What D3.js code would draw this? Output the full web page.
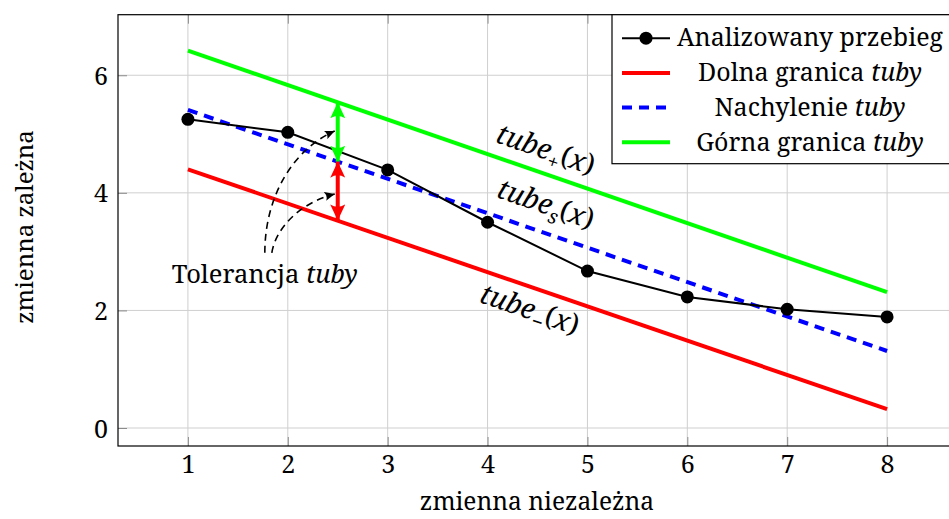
<!DOCTYPE html>
<html>
<head>
  <meta charset="UTF-8">
  <style>
    body { margin: 0; background: #ffffff; overflow: hidden; }
    svg { display: block; }
  </style>
</head>
<body>
<svg></svg>
<script src="https://d3js.org/d3.v7.min.js"></script>
<script>
let width = 949, height = 519;
const FONT = '"Noto Serif", "Liberation Serif", serif';

// measured series
const xValues = [1, 2, 3, 4, 5, 6, 7, 8];
const measured = [5.25, 5.03, 4.39, 3.50, 2.67, 2.23, 2.02, 1.89];

// tube lines (start / end)
const tubeX = [1, 8];
const lowerY = [4.40, 0.32];
const slopeY = [5.41, 1.31];
const upperY = [6.42, 2.31];

// tolerance arrows at x = 2.5
const tolX = 2.5;
const tolUpper = 5.54, tolMid = 4.53, tolLower = 3.53;

// ticks
const xTicks = [1, 2, 3, 4, 5, 6, 7, 8];
const yTicks = [0, 2, 4, 6];

// legend
const legendLabels = [
  ["Analizowany przebieg", ""],
  ["Dolna granica ", "tuby"],
  ["Nachylenie ", "tuby"],
  ["Górna granica ", "tuby"]
];

// dashed pointer curves: start, control1, control2, end (data units)
const pointerCurves = [
  [[1.77, 2.98], [1.77, 3.97], [2.07, 4.76], [2.47, 5.05]],
  [[1.84, 2.98], [1.88, 3.40], [2.12, 3.83], [2.47, 3.98]]
];

let svg = d3.select("svg").attr("width", width).attr("height", height);

let x = d3.scaleLinear().domain([0.3, 8.7]).range([118, 957]);
let y = d3.scaleLinear().domain([-0.306, 7.03]).range([446, 14.7]);

let defs = svg.append("defs");
function headMarker(id, color, len, w) {
  defs.append("marker")
    .attr("id", id)
    .attr("markerUnits", "userSpaceOnUse")
    .attr("viewBox", `${-len} ${-w} ${len + 1} ${2 * w}`)
    .attr("refX", 0).attr("refY", 0)
    .attr("markerWidth", len + 1).attr("markerHeight", 2 * w)
    .attr("orient", "auto-start-reverse")
    .append("path")
    .attr("d", `M0,0 L${-len},${-w} Q${-len * 0.7},0 ${-len},${w} Z`)
    .attr("fill", color);
}
headMarker("headGreen", "#00ff00", 16, 7.5);
headMarker("headRed", "#ff0000", 16, 7.5);
headMarker("headBlack", "#000", 10, 4.5);

// grid
let grid = svg.append("g").attr("stroke", "#cfcfcf").attr("stroke-width", 1);
grid.selectAll(".gx").data(xTicks).enter().append("line")
  .attr("x1", d => x(d)).attr("x2", d => x(d))
  .attr("y1", y.range()[0]).attr("y2", y.range()[1]);
grid.selectAll(".gy").data(yTicks).enter().append("line")
  .attr("y1", d => y(d)).attr("y2", d => y(d))
  .attr("x1", x.range()[0]).attr("x2", x.range()[1]);

// axes (ticks pointing inside)
let xAxis = svg.append("g")
  .attr("transform", `translate(0,${y.range()[0]})`)
  .call(d3.axisBottom(x).tickValues(xTicks).tickSize(-9).tickFormat(d3.format("d")));
let xAxisTop = svg.append("g")
  .attr("transform", `translate(0,${y.range()[1]})`)
  .call(d3.axisTop(x).tickValues(xTicks).tickSize(-9).tickFormat(""));
let yAxis = svg.append("g")
  .attr("transform", `translate(${x.range()[0]},0)`)
  .call(d3.axisLeft(y).tickValues(yTicks).tickSize(-9).tickFormat(d3.format("d")));
[xAxis, xAxisTop, yAxis].forEach(a => {
  a.attr("font-family", null).attr("font-size", null);
  a.select(".domain").remove();
  a.selectAll(".tick line").attr("stroke", "#8c8c8c");
  a.selectAll(".tick text").style("font-size", "25px").style("font-family", FONT);
});
xAxis.selectAll(".tick text").attr("dy", null).attr("y", 27);
yAxis.selectAll(".tick text").attr("x", -10).attr("dy", "0.36em");

// frame
svg.append("rect")
  .attr("x", x.range()[0]).attr("y", y.range()[1])
  .attr("width", x.range()[1] - x.range()[0])
  .attr("height", y.range()[0] - y.range()[1])
  .attr("fill", "none").attr("stroke", "#000").attr("stroke-width", 1.2);

// tube lines
function tubeLine(vals, color, dash) {
  svg.append("path")
    .datum(tubeX.map((d, i) => [d, vals[i]]))
    .attr("d", d3.line().x(d => x(d[0])).y(d => y(d[1])))
    .attr("fill", "none")
    .attr("stroke", color)
    .attr("stroke-width", 4)
    .attr("stroke-dasharray", dash);
}
tubeLine(lowerY, "#ff0000", null);
tubeLine(upperY, "#00ff00", null);
tubeLine(slopeY, "#0000ff", "10,7");

// measured line + markers
let pts = xValues.map((d, i) => [d, measured[i]]);
svg.append("path")
  .datum(pts)
  .attr("d", d3.line().x(d => x(d[0])).y(d => y(d[1])))
  .attr("fill", "none").attr("stroke", "#000").attr("stroke-width", 2);
svg.selectAll(".pt").data(pts).enter().append("circle")
  .attr("cx", d => x(d[0])).attr("cy", d => y(d[1]))
  .attr("r", 6.5).attr("fill", "#000");

// tolerance arrows
svg.append("line")
  .attr("x1", x(tolX)).attr("x2", x(tolX))
  .attr("y1", y(tolUpper)).attr("y2", y(tolMid))
  .attr("stroke", "#00ff00").attr("stroke-width", 4)
  .attr("marker-start", "url(#headGreen)").attr("marker-end", "url(#headGreen)");
svg.append("line")
  .attr("x1", x(tolX)).attr("x2", x(tolX))
  .attr("y1", y(tolMid)).attr("y2", y(tolLower))
  .attr("stroke", "#ff0000").attr("stroke-width", 4)
  .attr("marker-start", "url(#headRed)").attr("marker-end", "url(#headRed)");

// dashed pointers
pointerCurves.forEach(c => {
  let p = d3.path();
  p.moveTo(x(c[0][0]), y(c[0][1]));
  p.bezierCurveTo(x(c[1][0]), y(c[1][1]), x(c[2][0]), y(c[2][1]), x(c[3][0]), y(c[3][1]));
  svg.append("path")
    .attr("d", p.toString())
    .attr("fill", "none").attr("stroke", "#000")
    .attr("stroke-width", 1.6).attr("stroke-dasharray", "7,5")
    .attr("marker-end", "url(#headBlack)");
});

// "Tolerancja tuby"
let tol = svg.append("text")
  .attr("x", x(1.77)).attr("y", y(2.46))
  .attr("text-anchor", "middle")
  .style("font-family", FONT)
  .style("font-size", "25.5px");
tol.append("tspan").text("Tolerancja ");
tol.append("tspan").style("font-style", "italic").text("tuby");

// rotated tube labels
let angle = Math.atan2(y(lowerY[1]) - y(lowerY[0]), x(tubeX[1]) - x(tubeX[0])) * 180 / Math.PI;
function tubeLabel(cx, cy, sub) {
  let t = svg.append("text")
    .attr("transform", `translate(${x(cx)},${y(cy)}) rotate(${angle})`)
    .attr("text-anchor", "middle")
    .attr("dy", "0.3em")
    .style("font-family", FONT)
    .style("font-size", "28px");
  t.append("tspan").style("font-style", "italic").text("tube");
  t.append("tspan").style("font-size", "20px").style("font-style", sub === "s" ? "italic" : "normal")
    .attr("dy", 7).text(sub);
  t.append("tspan").attr("dy", -7).text("(");
  t.append("tspan").style("font-style", "italic").text("x");
  t.append("tspan").text(")");
}
tubeLabel(4.58, 4.72, "+");
tubeLabel(4.58, 3.79, "s");
tubeLabel(4.42, 2.0, "\u2212");

// legend
let legend = svg.append("g").attr("transform", "translate(612,14.7)");
legend.append("rect")
  .attr("width", 400).attr("height", 149)
  .attr("fill", "#fff").attr("stroke", "#000").attr("stroke-width", 1.2);
let rowY = i => 23.5 + i * 34.7;
let samples = [
  { color: "#000", w: 2, dash: null },
  { color: "#ff0000", w: 4, dash: null },
  { color: "#0000ff", w: 4, dash: "10,7" },
  { color: "#00ff00", w: 4, dash: null }
];
samples.forEach((s, i) => {
  legend.append("line")
    .attr("x1", 10).attr("x2", 58)
    .attr("y1", rowY(i)).attr("y2", rowY(i))
    .attr("stroke", s.color).attr("stroke-width", s.w)
    .attr("stroke-dasharray", s.dash);
});
legend.append("circle").attr("cx", 34).attr("cy", rowY(0)).attr("r", 6.5).attr("fill", "#000");
legendLabels.forEach((l, i) => {
  let t = legend.append("text")
    .attr("x", 198).attr("y", rowY(i))
    .attr("dy", "0.33em")
    .attr("text-anchor", "middle")
    .style("font-family", FONT)
    .style("font-size", "25px");
  t.append("tspan").text(l[0]);
  if (l[1]) t.append("tspan").style("font-style", "italic").text(l[1]);
});

// axis titles
svg.append("text")
  .attr("x", 537).attr("y", 510)
  .attr("text-anchor", "middle")
  .style("font-family", FONT)
  .style("font-size", "24.5px")
  .text("zmienna niezależna");
svg.append("text")
  .attr("transform", "translate(25,227) rotate(-90)")
  .attr("dy", "0.33em")
  .attr("text-anchor", "middle")
  .style("font-family", FONT)
  .style("font-size", "24px")
  .text("zmienna zależna");
</script>
</body>
</html>
